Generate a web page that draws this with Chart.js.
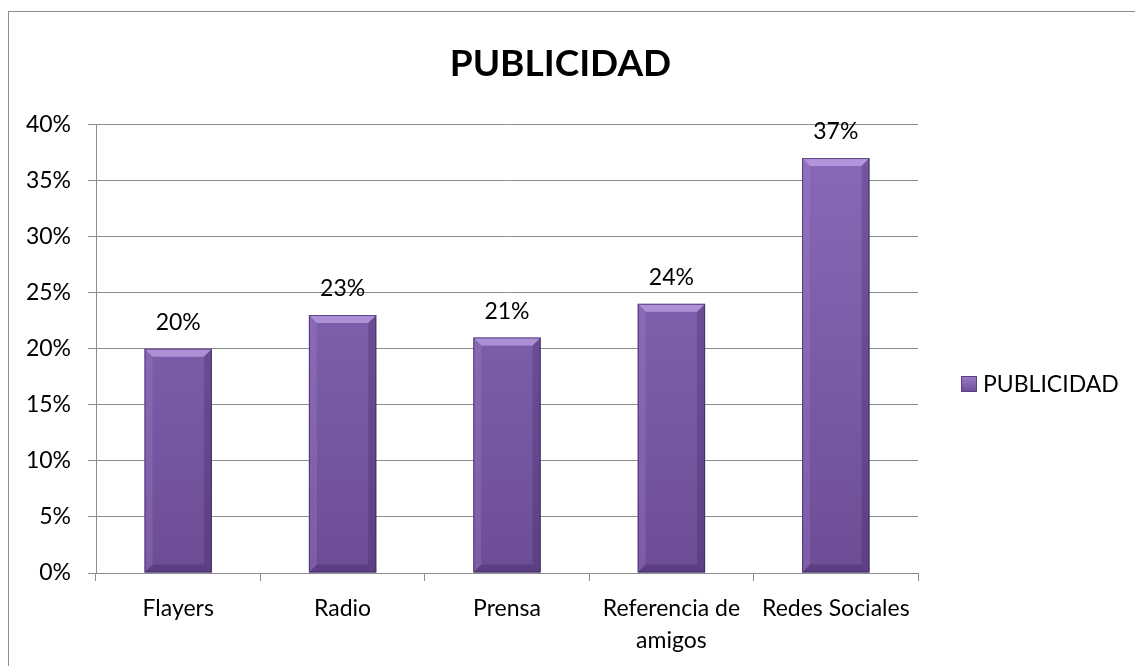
<!DOCTYPE html>
<html>
<head>
<meta charset="utf-8">
<script src="https://cdn.jsdelivr.net/npm/chart.js@4.4.1/dist/chart.umd.min.js"></script>
<style>
  html, body { margin: 0; padding: 0; background: #fff; overflow: hidden; }
  #frame { position: absolute; left: 8px; top: 11px; width: 1200px; height: 700px; border: 1px solid #8c8c8c; }
  #wrap { position: absolute; left: 0; top: 0; width: 1135px; height: 666px; }
</style>
</head>
<body>
<div id="frame"></div>
<div id="wrap"><canvas id="chart"></canvas></div>
<script>
  const categories = ["Flayers", "Radio", "Prensa", ["Referencia de", "amigos"], "Redes Sociales"];
  const values = [20, 23, 21, 24, 37];
  const yTicks = [0, 5, 10, 15, 20, 25, 30, 35, 40];
  const seriesName = "PUBLICIDAD";

  const FONT = "Lato, 'Open Sans', sans-serif";
  const GRAY = "#8c8c8c";

  // value labels above each bar
  const valueLabels = {
    id: "valueLabels",
    afterDatasetsDraw(chart) {
      const ctx = chart.ctx;
      const meta = chart.getDatasetMeta(0);
      ctx.save();
      ctx.font = "23px " + FONT;
      ctx.fillStyle = "#000";
      ctx.textAlign = "center";
      ctx.textBaseline = "middle";
      meta.data.forEach((bar, i) => {
        ctx.fillText(values[i] + "%", bar.x, bar.y - 26);
      });
      ctx.restore();
    }
  };

  // bevel look on bars
  const bevel = {
    id: "bevel",
    afterDatasetsDraw(chart) {
      const ctx = chart.ctx;
      const meta = chart.getDatasetMeta(0);
      const b = 8;
      ctx.save();
      meta.data.forEach(bar => {
        const l = bar.x - bar.width / 2, r = bar.x + bar.width / 2;
        const t = bar.y, btm = bar.base;
        // top
        ctx.fillStyle = "rgba(205,180,245,0.6)";
        ctx.beginPath();
        ctx.moveTo(l, t); ctx.lineTo(r, t); ctx.lineTo(r - b, t + b); ctx.lineTo(l + b, t + b); ctx.closePath();
        ctx.fill();
        // left
        ctx.fillStyle = "rgba(170,140,215,0.25)";
        ctx.beginPath();
        ctx.moveTo(l, t); ctx.lineTo(l + b, t + b); ctx.lineTo(l + b, btm - b); ctx.lineTo(l, btm); ctx.closePath();
        ctx.fill();
        // right
        ctx.fillStyle = "rgba(40,20,70,0.22)";
        ctx.beginPath();
        ctx.moveTo(r, t); ctx.lineTo(r - b, t + b); ctx.lineTo(r - b, btm - b); ctx.lineTo(r, btm); ctx.closePath();
        ctx.fill();
        // bottom
        ctx.fillStyle = "rgba(40,20,70,0.25)";
        ctx.beginPath();
        ctx.moveTo(l, btm); ctx.lineTo(l + b, btm - b); ctx.lineTo(r - b, btm - b); ctx.lineTo(r, btm); ctx.closePath();
        ctx.fill();
        ctx.strokeStyle = "rgba(60,35,95,0.7)";
        ctx.lineWidth = 1;
        ctx.strokeRect(l + 0.5, t + 0.5, bar.width - 1, btm - t - 1);
      });
      ctx.restore();
    }
  };

  // legend at the right
  const sideLegend = {
    id: "sideLegend",
    afterDraw(chart) {
      const ctx = chart.ctx;
      const x = chart.chartArea.right + 43;
      const y = 384;
      ctx.save();
      const g = ctx.createLinearGradient(0, y - 8, 0, y + 8);
      g.addColorStop(0, "#9a7ccc");
      g.addColorStop(1, "#6b4c93");
      ctx.fillStyle = g;
      ctx.fillRect(x, y - 8, 16, 16);
      ctx.strokeStyle = "#5a4080";
      ctx.strokeRect(x + 0.5, y - 7.5, 15, 15);
      ctx.font = "23px " + FONT;
      ctx.fillStyle = "#000";
      ctx.textBaseline = "middle";
      ctx.fillText(seriesName, x + 22, y + 1);
      ctx.restore();
    }
  };

  const data = {
    labels: categories,
    datasets: [{
      label: seriesName,
      data: values,
      backgroundColor(c) {
        const area = c.chart.chartArea;
        if (!area) return "#7f60a8";
        const g = c.chart.ctx.createLinearGradient(0, area.top, 0, area.bottom);
        g.addColorStop(0, "#8a6bba");
        g.addColorStop(1, "#6c4d95");
        return g;
      },
      borderWidth: 0,
      categoryPercentage: 1,
      barPercentage: 0.41
    }]
  };

  const config = {
    type: "bar",
    data: data,
    plugins: [bevel, valueLabels, sideLegend],
    options: {
      responsive: false,
      animation: false,
      devicePixelRatio: 1,
      layout: { padding: { left: 0, right: 14, top: 0, bottom: 8 } },
      plugins: {
        legend: { display: false },
        tooltip: { enabled: false },
        title: {
          display: true,
          text: seriesName,
          color: "#000",
          font: { family: FONT, size: 37, weight: "bold" },
          padding: { top: 42, bottom: 38 }
        }
      },
      scales: {
        x: {
          grid: { offset: true, drawOnChartArea: false, color: GRAY, tickLength: 8 },
          border: { color: GRAY },
          ticks: {
            color: "#000",
            font: { family: FONT, size: 23, lineHeight: 1.4 },
            maxRotation: 0, autoSkip: false, padding: 11
          },
          afterFit(s) { s.height = 85; }
        },
        y: {
          min: 0, max: 40,
          afterBuildTicks(s) { s.ticks = yTicks.map(v => ({ value: v })); },
          grid: { color: GRAY, tickLength: 8 },
          border: { color: GRAY },
          ticks: {
            color: "#000",
            font: { family: FONT, size: 23 },
            padding: 17,
            callback: v => v + "%"
          },
          afterFit(s) { s.width = 96; }
        },
        // empty axis that keeps the space for the legend on the right
        side: {
          position: "right",
          display: true,
          grid: { display: false, drawTicks: false },
          border: { display: false },
          ticks: { display: false },
          afterFit(s) { s.width = 203; }
        }
      }
    }
  };

  const canvas = document.getElementById("chart");
  canvas.width = 1135;
  canvas.height = 666;
  new Chart(canvas.getContext("2d"), config);
</script>
</body>
</html>
